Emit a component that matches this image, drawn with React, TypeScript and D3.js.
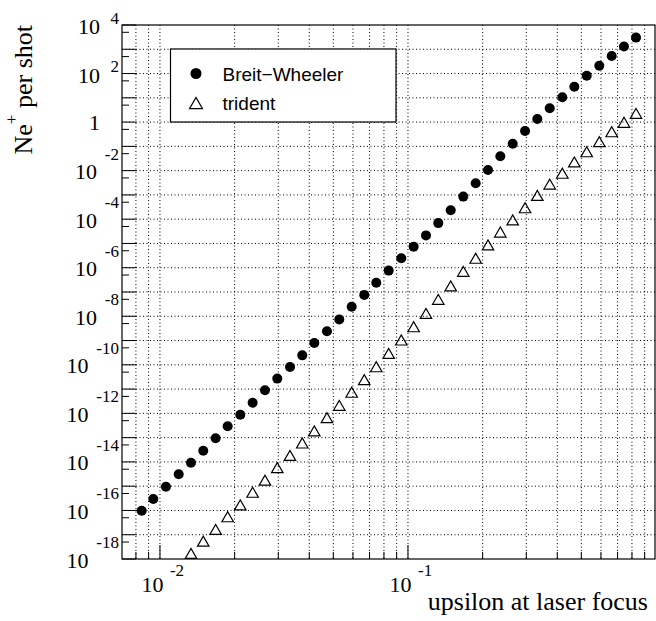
import React from 'react';
import * as d3 from 'd3';

// upsilon at laser focus (x) for every point
const upsilon = [0.00844, 0.0094, 0.01057, 0.0119, 0.01334, 0.01495, 0.01677, 0.01875, 0.02108, 0.02364,
  0.02651, 0.02972, 0.03344, 0.03748, 0.04191, 0.04713, 0.05284, 0.0593, 0.06665, 0.0745,
  0.08359, 0.09397, 0.1054, 0.1182, 0.1325, 0.1487, 0.1671, 0.1875, 0.2102, 0.2357,
  0.2644, 0.2965, 0.3323, 0.3728, 0.4191, 0.4685, 0.5256, 0.5909, 0.6628, 0.743, 0.8306];

const breitWheeler = [9.8e-17, 2.95e-16, 9.5e-16, 3.1e-15, 9.3e-15, 2.9e-14, 9.5e-14, 2.95e-13, 8.7e-13, 2.75e-12,
  8.9e-12, 2.7e-11, 8.1e-11, 2.45e-10, 7.9e-10, 2.4e-9, 7.4e-9, 2.45e-8, 7.6e-8, 2.4e-7,
  7.6e-7, 2.45e-6, 7.4e-6, 2.15e-5, 6.9e-5, 2.35e-4, 8.5e-4, 3.0e-3, 1.07e-2, 3.9e-2,
  0.129, 0.427, 1.35, 3.7, 10.5, 28.8, 81, 209, 525, 1290, 3020];

// first points lie below the frame
const trident = [null, null, null, null, 1.7e-18, 5.4e-18, 1.66e-17, 5.5e-17, 1.7e-16, 5.6e-16,
  1.78e-15, 5.75e-15, 1.86e-14, 6.0e-14, 1.9e-13, 6.6e-13, 2.14e-12, 7.4e-12, 2.45e-11, 8.3e-11,
  2.95e-10, 1.05e-9, 3.7e-9, 1.32e-8, 5.0e-8, 1.78e-7, 7.1e-7, 2.45e-6, 8.7e-6, 2.95e-5,
  9.3e-5, 2.95e-4, 9.5e-4, 2.8e-3, 7.8e-3, 2.3e-2, 6.0e-2, 0.155, 0.40, 0.98, 2.3];

const yLabelExps = [4, 2, 0, -2, -4, -6, -8, -10, -12, -14, -16, -18];
const xLabelExps = [-2, -1];

const legendItems = ['Breit\u2212Wheeler', 'trident'];

const W = 656, H = 621;
const left = 122, right = 655, top = 25, bottom = 559;
const serif = '"Liberation Serif", "Times New Roman", serif';
const sans = '"Liberation Sans", Arial, sans-serif';

function triPath(cx: number, cy: number, w: number) {
  const h = w * 0.866;
  return `M${cx - w / 2},${cy + h / 2}L${cx + w / 2},${cy + h / 2}L${cx},${cy - h / 2}Z`;
}

export default function App() {
  const x = d3.scaleLog().domain([0.00703, 0.9908]).range([left, right]);
  const y = d3.scaleLog().domain([1e-18, 1e4]).range([bottom, top]);

  // vertical grid at every 1..9 x decade
  const xGrid: number[] = [];
  for (let d = -3; d <= 0; d++) {
    for (let m = 1; m <= 9; m++) {
      const v = m * Math.pow(10, d);
      if (x(v) > left + 1 && x(v) < right - 1) xGrid.push(v);
    }
  }
  const yDecades: number[] = [];
  for (let e = -18; e <= 4; e++) yDecades.push(Math.pow(10, e));
  const yHalf = yDecades.slice(0, -1).map(v => v * 5);

  return (
    <svg width={W} height={H} style={{ position: 'absolute', left: 0, top: 0, background: '#fff' }}>
      <defs>
        <clipPath id="frame">
          <rect x={left} y={top} width={right - left} height={bottom - top} />
        </clipPath>
      </defs>
      <rect width={W} height={H} fill="#fff" />

      {/* grid */}
      <g stroke="#000" strokeWidth={1} strokeDasharray="1,2.5" fill="none">
        {xGrid.map((v, i) => (
          <line key={'gx' + i} x1={x(v)} x2={x(v)} y1={top} y2={bottom} />
        ))}
        {yDecades.slice(1, -1).map((v, i) => (
          <line key={'gy' + i} x1={left} x2={right} y1={y(v)} y2={y(v)} />
        ))}
      </g>

      {/* ticks */}
      <g stroke="#000" strokeWidth={1}>
        {xGrid.map((v, i) => {
          const major = Math.abs(Math.log10(v) - Math.round(Math.log10(v))) < 1e-6;
          return <line key={'tx' + i} x1={x(v)} x2={x(v)} y1={bottom} y2={bottom - (major ? 14 : 7)} />;
        })}
        {yDecades.map((v, i) => (
          <line key={'ty' + i} x1={left} x2={left + 14} y1={y(v)} y2={y(v)} />
        ))}
        {yHalf.map((v, i) => (
          <line key={'th' + i} x1={left} x2={left + 7} y1={y(v)} y2={y(v)} />
        ))}
      </g>

      {/* frame */}
      <rect x={left} y={top} width={right - left} height={bottom - top} fill="none" stroke="#000" strokeWidth={1.2} />

      {/* y labels */}
      <g fontFamily={serif} fill="#000">
        {yLabelExps.map(e => {
          const ty = y(Math.pow(10, e));
          if (e === 0) {
            return <text key={'yl' + e} x={100} y={ty + 8} fontSize={22} textAnchor="end">1</text>;
          }
          const neg = e < 0;
          const s = String(e);
          const baseEnd = !neg ? 100 : s.length > 2 ? 88.5 : 97;
          return (
            <g key={'yl' + e}>
              <text x={baseEnd} y={ty + (neg ? 8.5 : 9)} fontSize={22} textAnchor="end">10</text>
              <text x={119} y={ty + (neg ? -11 : -1.5)} fontSize={17} textAnchor="end">{s}</text>
            </g>
          );
        })}
        {xLabelExps.map(e => {
          const tx = x(Math.pow(10, e));
          return (
            <g key={'xl' + e}>
              <text x={tx + 3.5} y={592} fontSize={22} textAnchor="end">10</text>
              <text x={tx + 10} y={575.5} fontSize={17}>{String(e)}</text>
            </g>
          );
        })}
        <text x={648} y={610} fontSize={26} textAnchor="end">upsilon at laser focus</text>
        <text transform={`translate(32,25) rotate(-90)`} fontSize={26} textAnchor="end">
          Ne<tspan fontSize={17} dy={-15}>+</tspan><tspan dy={15}> per shot</tspan>
        </text>
      </g>

      {/* data */}
      <g clipPath="url(#frame)">
        {upsilon.map((u, i) => (
          <circle key={'bw' + i} cx={x(u)} cy={y(breitWheeler[i])} r={5} fill="#000" />
        ))}
        {upsilon.map((u, i) => trident[i] == null ? null : (
          <path key={'tr' + i} d={triPath(x(u), y(trident[i] as number), 11.5)}
            fill="none" stroke="#000" strokeWidth={1.2} />
        ))}
      </g>

      {/* legend */}
      <rect x={170.5} y={49} width={225.5} height={73} fill="#fff" stroke="#000" strokeWidth={1.2} />
      <circle cx={196} cy={73.5} r={5.5} fill="#000" />
      <path d={triPath(196, 103, 13)} fill="none" stroke="#000" strokeWidth={1.2} />
      {legendItems.map((t, i) => (
        <text key={t} x={222.5} y={81 + i * 29} fontFamily={sans} fontSize={19} fill="#000">{t}</text>
      ))}
    </svg>
  );
}
